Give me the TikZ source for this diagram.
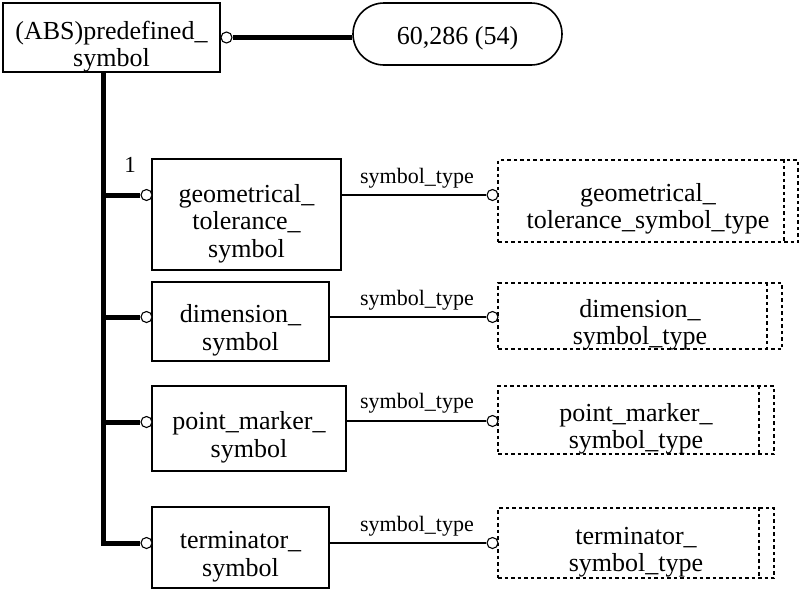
\documentclass[tikz,border=0pt]{standalone}
\usepackage{fontspec}
\setmainfont{Liberation Serif}
\usepackage{tikz}
\tikzset{
    box-text/.style = {align=center, inner sep=0pt, yshift=-9pt, font=\fontsize{26}{27.5}\selectfont},
    entity-box/.style = {draw, line width=1.8pt, rectangle, inner sep=0pt},
    type-box/.style = {draw, line width=1.5pt, dash pattern=on 3.5pt off 3pt, rectangle, inner sep=0pt},
    page-ref/.style = {draw, line width=1.6pt, rectangle, rounded corners=31pt, minimum width=209pt, minimum height=62pt},
    link-dot/.style = {draw, fill=white, line width=1.1pt, circle, minimum size=11pt, inner sep=0pt},
    thick-link/.style = {line width=5pt},
    thin-link/.style = {line width=1.5pt},
    link-label/.style = {font=\fontsize{22}{24}\selectfont, inner sep=0pt},
}
\begin{document}
\begin{tikzpicture}[x=1pt, y=-1pt]
\useasboundingbox (0,0) rectangle (799,590);

\node[entity-box, minimum width=217pt, minimum height=69pt, label={[box-text]center:(ABS)predefined\_\\symbol}] (top) at (111.5,37.5) {};
\node[page-ref, label={[box-text, yshift=5pt]center:60,286 (54)}] (ref) at (457.5,34) {};
\node[link-dot] (top-dot) at (226.5,37.5) {};
\draw[thick-link] (top-dot.east) -- (top-dot.east -| ref.west);

\node[entity-box, minimum width=189pt, minimum height=111pt, label={[box-text]center:geometrical\_\\tolerance\_\\symbol}] (geom) at (246.5,214.5) {};
\node[entity-box, minimum width=177pt, minimum height=79pt, label={[box-text]center:dimension\_\\symbol}] (dim) at (240.5,321.5) {};
\node[entity-box, minimum width=194pt, minimum height=85pt, label={[box-text]center:point\_marker\_\\symbol}] (point) at (249,428.5) {};
\node[entity-box, minimum width=177pt, minimum height=81pt, label={[box-text]center:terminator\_\\symbol}] (term) at (240.5,547.5) {};

\node[link-dot] (geom-in) at (146.5,195) {};
\node[link-dot] (dim-in) at (146.5,317) {};
\node[link-dot] (point-in) at (146.5,422) {};
\node[link-dot] (term-in) at (146.5,543) {};

\coordinate (bus) at (103,0);
\draw[thick-link] (top.south -| bus) |- (term-in.west);
\draw[thick-link] (geom-in.west -| bus) -- (geom-in.west);
\draw[thick-link] (dim-in.west -| bus) -- (dim-in.west);
\draw[thick-link] (point-in.west -| bus) -- (point-in.west);
\node[link-label, font=\fontsize{23}{24}\selectfont] (one) at (130,165) {1};

\node[type-box, minimum width=300pt, minimum height=82pt, label={[box-text, yshift=1pt]center:geometrical\_\\tolerance\_symbol\_type}] (geom-type) at (648,201) {};
\node[type-box, minimum width=284pt, minimum height=66pt, label={[box-text]center:dimension\_\\symbol\_type}] (dim-type) at (640,316) {};
\node[type-box, minimum width=276pt, minimum height=68pt, label={[box-text]center:point\_marker\_\\symbol\_type}] (point-type) at (636,420) {};
\node[type-box, minimum width=276pt, minimum height=70pt, label={[box-text]center:terminator\_\\symbol\_type}] (term-type) at (636,543) {};
\draw[type-box] ([xshift=-15pt]geom-type.north east) -- ([xshift=-15pt]geom-type.south east);
\draw[type-box] ([xshift=-16pt]dim-type.north east) -- ([xshift=-16pt]dim-type.south east);
\draw[type-box] ([xshift=-16pt]point-type.north east) -- ([xshift=-16pt]point-type.south east);
\draw[type-box] ([xshift=-16pt]term-type.north east) -- ([xshift=-16pt]term-type.south east);

\node[link-dot] (geom-out) at (492.5,195) {};
\node[link-dot] (dim-out) at (492.5,317) {};
\node[link-dot] (point-out) at (492.5,421) {};
\node[link-dot] (term-out) at (492.5,543) {};
\draw[thin-link] (geom-out.west -| geom.east) -- (geom-out.west);
\draw[thin-link] (dim-out.west -| dim.east) -- (dim-out.west);
\draw[thin-link] (point-out.west -| point.east) -- (point-out.west);
\draw[thin-link] (term-out.west -| term.east) -- (term-out.west);
\node[link-label] (geom-attr) at (417,178) {symbol\_type};
\node[link-label] (dim-attr) at (417,300) {symbol\_type};
\node[link-label] (point-attr) at (417,403) {symbol\_type};
\node[link-label] (term-attr) at (417,526) {symbol\_type};
\end{tikzpicture}
\end{document}
